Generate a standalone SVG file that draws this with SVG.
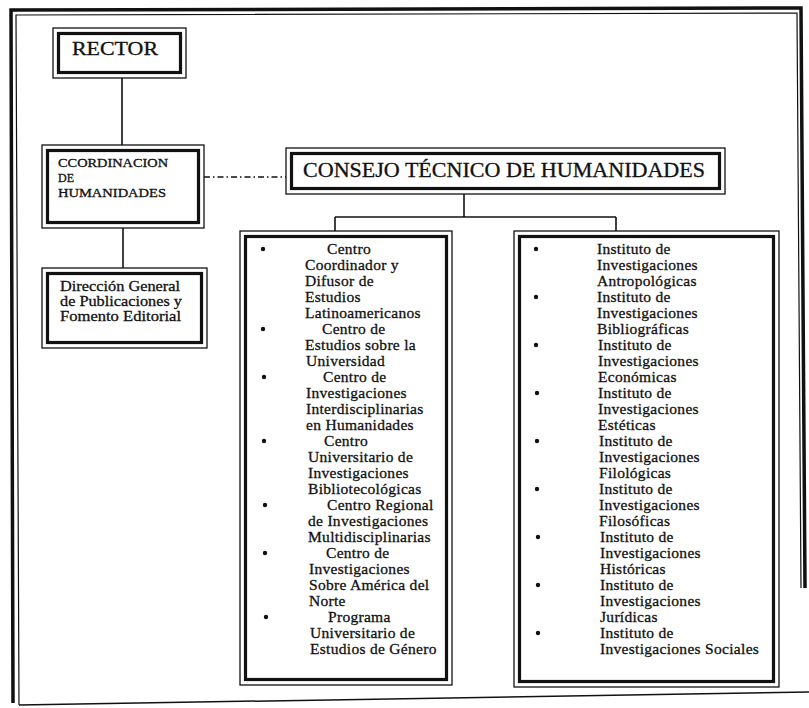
<svg xmlns="http://www.w3.org/2000/svg" width="809" height="708" viewBox="0 0 809 708">
<style>
.o{fill:none;stroke:#111;stroke-width:1.3}
.i{fill:none;stroke:#111;stroke-width:3.2}
.c{fill:none;stroke:#111;stroke-width:1.6}
.t{font-family:"Liberation Serif","Times New Roman",serif;fill:#111;stroke:#111;stroke-width:0.3}
.l{font-size:15.5px;letter-spacing:0.3px}
.b{fill:#111}
</style>
<rect width="809" height="708" fill="#fff"/>
<g id="frame">
<path d="M13,703 L11,10 L801,8 L805,588" fill="none" stroke="#111" stroke-width="3.5"/>
<path d="M19,705 L16,15 L797,13 L801,588" fill="none" stroke="#111" stroke-width="1.2"/>
<path d="M19,705 L809,692" fill="none" stroke="#111" stroke-width="1.5"/>
</g>
<g id="connectors">
<line class="c" x1="122" y1="78" x2="122" y2="145"/>
<line class="c" x1="123" y1="228" x2="123" y2="268"/>
<line class="c" x1="204" y1="177" x2="286" y2="177" stroke-dasharray="6 3 1.5 3"/>
<line class="c" x1="464" y1="194" x2="464" y2="217"/>
<line class="c" x1="335" y1="217" x2="616" y2="217"/>
<line class="c" x1="335" y1="217" x2="335" y2="231"/>
<line class="c" x1="616" y1="217" x2="616" y2="231"/>
</g>
<g id="rector">
<rect class="o" x="53" y="28" width="133" height="50"/>
<rect class="i" x="58.5" y="33.5" width="122" height="39"/>
<text class="t" x="72" y="55" font-size="18" textLength="86" lengthAdjust="spacingAndGlyphs">RECTOR</text>
</g>
<g id="coordinacion">
<rect class="o" x="42" y="145" width="162" height="83"/>
<rect class="i" x="47.5" y="150.5" width="151" height="72"/>
<text class="t" font-size="12" x="58" y="167" textLength="110" lengthAdjust="spacingAndGlyphs">CCORDINACION</text>
<text class="t" font-size="12" x="58" y="182">DE</text>
<text class="t" font-size="12" x="58" y="197" textLength="108" lengthAdjust="spacingAndGlyphs">HUMANIDADES</text>
</g>
<g id="direccion">
<rect class="o" x="42" y="268" width="165" height="80"/>
<rect class="i" x="47.5" y="273.5" width="154" height="69"/>
<text class="t" font-size="15" x="60" y="291" textLength="120" lengthAdjust="spacingAndGlyphs">Dirección General</text>
<text class="t" font-size="15" x="60" y="306" textLength="122" lengthAdjust="spacingAndGlyphs">de Publicaciones y</text>
<text class="t" font-size="15" x="60" y="321" textLength="121" lengthAdjust="spacingAndGlyphs">Fomento Editorial</text>
</g>
<g id="consejo">
<rect class="o" x="286" y="148" width="439" height="46"/>
<rect class="i" x="291.5" y="153.5" width="428" height="35"/>
<text class="t" font-size="20" x="303" y="177" textLength="402" lengthAdjust="spacingAndGlyphs">CONSEJO TÉCNICO DE HUMANIDADES</text>
</g>
<g id="centros">
<rect class="o" x="240" y="231" width="212" height="454"/>
<rect class="i" x="245.5" y="236.5" width="201" height="443"/>
<circle class="b" cx="263" cy="249" r="2.2"/>
<circle class="b" cx="263" cy="329" r="2.2"/>
<circle class="b" cx="264" cy="377" r="2.2"/>
<circle class="b" cx="264" cy="441" r="2.2"/>
<circle class="b" cx="265" cy="505" r="2.2"/>
<circle class="b" cx="265" cy="553" r="2.2"/>
<circle class="b" cx="266" cy="617" r="2.2"/>
<text class="t l">
<tspan x="327" y="254">Centro</tspan>
<tspan x="305" y="270">Coordinador y</tspan>
<tspan x="305" y="286">Difusor de</tspan>
<tspan x="305" y="302">Estudios</tspan>
<tspan x="305" y="318">Latinoamericanos</tspan>
<tspan x="322" y="334">Centro de</tspan>
<tspan x="305" y="350">Estudios sobre la</tspan>
<tspan x="306" y="366">Universidad</tspan>
<tspan x="323" y="382">Centro de</tspan>
<tspan x="306" y="398">Investigaciones</tspan>
<tspan x="306" y="414">Interdisciplinarias</tspan>
<tspan x="306" y="430">en Humanidades</tspan>
<tspan x="324" y="446">Centro</tspan>
<tspan x="308" y="462">Universitario de</tspan>
<tspan x="308" y="478">Investigaciones</tspan>
<tspan x="308" y="494">Bibliotecológicas</tspan>
<tspan x="327" y="510">Centro Regional</tspan>
<tspan x="308" y="526">de Investigaciones</tspan>
<tspan x="308" y="542">Multidisciplinarias</tspan>
<tspan x="326" y="558">Centro de</tspan>
<tspan x="309" y="574">Investigaciones</tspan>
<tspan x="309" y="590">Sobre América del</tspan>
<tspan x="309" y="606">Norte</tspan>
<tspan x="328" y="622">Programa</tspan>
<tspan x="310" y="638">Universitario de</tspan>
<tspan x="310" y="654">Estudios de Género</tspan>
</text>
</g>
<g id="institutos">
<rect class="o" x="514" y="231" width="265" height="456"/>
<rect class="i" x="519.5" y="236.5" width="254" height="445"/>
<circle class="b" cx="536" cy="249" r="2.2"/>
<circle class="b" cx="536" cy="297" r="2.2"/>
<circle class="b" cx="536" cy="345" r="2.2"/>
<circle class="b" cx="537" cy="393" r="2.2"/>
<circle class="b" cx="537" cy="441" r="2.2"/>
<circle class="b" cx="537" cy="489" r="2.2"/>
<circle class="b" cx="538" cy="537" r="2.2"/>
<circle class="b" cx="538" cy="585" r="2.2"/>
<circle class="b" cx="538" cy="633" r="2.2"/>
<text class="t l">
<tspan x="597" y="254">Instituto de</tspan>
<tspan x="597" y="270">Investigaciones</tspan>
<tspan x="597" y="286">Antropológicas</tspan>
<tspan x="597" y="302">Instituto de</tspan>
<tspan x="597" y="318">Investigaciones</tspan>
<tspan x="597" y="334">Bibliográficas</tspan>
<tspan x="598" y="350">Instituto de</tspan>
<tspan x="598" y="366">Investigaciones</tspan>
<tspan x="598" y="382">Económicas</tspan>
<tspan x="598" y="398">Instituto de</tspan>
<tspan x="598" y="414">Investigaciones</tspan>
<tspan x="598" y="430">Estéticas</tspan>
<tspan x="599" y="446">Instituto de</tspan>
<tspan x="599" y="462">Investigaciones</tspan>
<tspan x="599" y="478">Filológicas</tspan>
<tspan x="599" y="494">Instituto de</tspan>
<tspan x="599" y="510">Investigaciones</tspan>
<tspan x="599" y="526">Filosóficas</tspan>
<tspan x="600" y="542">Instituto de</tspan>
<tspan x="600" y="558">Investigaciones</tspan>
<tspan x="600" y="574">Históricas</tspan>
<tspan x="600" y="590">Instituto de</tspan>
<tspan x="600" y="606">Investigaciones</tspan>
<tspan x="600" y="622">Jurídicas</tspan>
<tspan x="600" y="638">Instituto de</tspan>
<tspan x="600" y="654">Investigaciones Sociales</tspan>
</text>
</g>
</svg>
